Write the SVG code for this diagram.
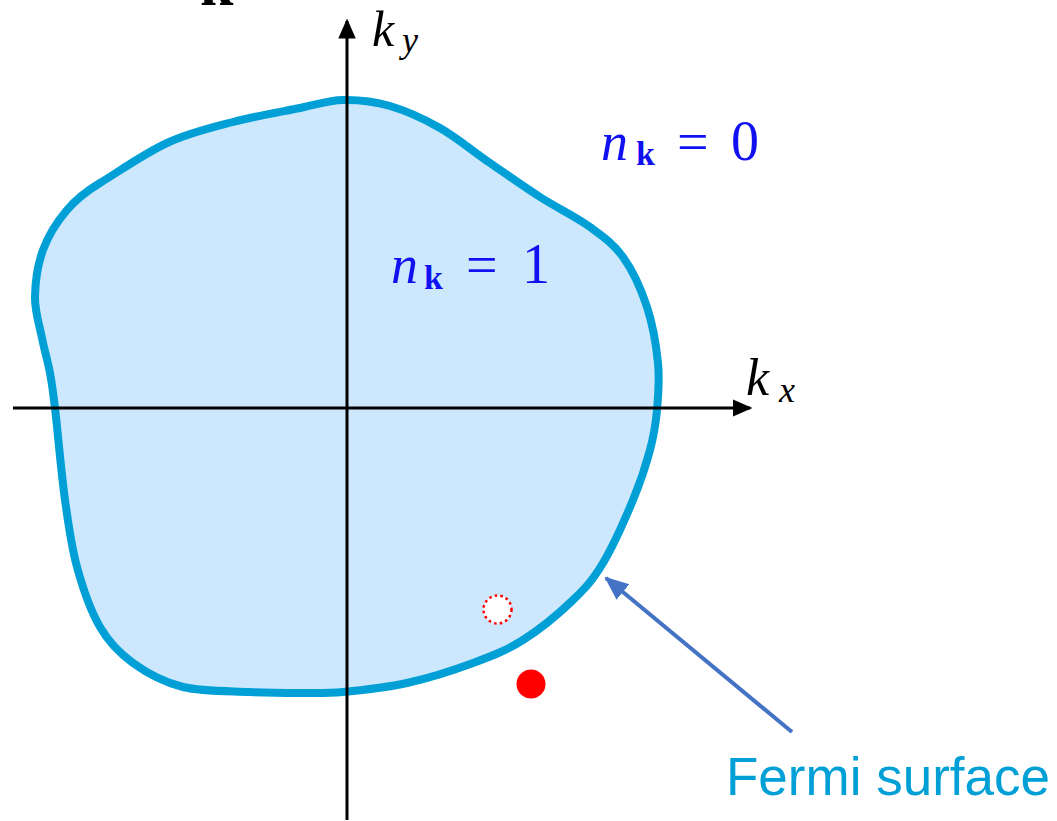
<svg xmlns="http://www.w3.org/2000/svg" width="1057" height="821" viewBox="0 0 1057 821">
<style>
.axis{stroke:#000;stroke-width:3;fill:none}
.math{font-family:"Liberation Serif","DejaVu Serif",serif;font-style:italic}
.up{font-family:"Liberation Serif","DejaVu Serif",serif;font-style:normal}
.bold{font-family:"Liberation Serif","DejaVu Serif",serif;font-weight:bold;font-style:normal}
.blue{fill:#1010f0}
</style>
<defs>
<marker id="axhead" markerUnits="userSpaceOnUse" markerWidth="20" markerHeight="20" viewBox="0 0 16 16" refX="14" refY="8" orient="auto">
<path d="M0,1 L16,8 L0,15 Z" fill="#000"/>
</marker>
<marker id="bluehead" markerUnits="userSpaceOnUse" markerWidth="24" markerHeight="24" viewBox="0 0 24 24" refX="22" refY="12" orient="auto">
<path d="M0,2 L24,12 L0,22 Z" fill="#4472c4"/>
</marker>
</defs>
<rect width="1057" height="821" fill="#fff"/>
<g id="top-cut-label">
<text class="bold" x="200" y="5" font-size="60" fill="#000">k</text>
</g>
<g id="fermi-sea">
<path d="M343,100 C358,99.7 373.8,101.3 390,106 C406.2,110.7 423.3,118.5 440,128 C456.7,137.5 473.3,151.5 490,163 C506.7,174.5 523.3,186.3 540,197 C556.7,207.7 576.2,217 590,227 C603.8,237 613.5,243.7 623,257 C632.5,270.3 641.2,289.3 647,307 C652.8,324.7 656.3,345.8 658,363 C659.7,380.2 658.3,395.5 657,410 C655.7,424.5 654,435 650,450 C646,465 640.8,481.2 633,500 C625.2,518.8 613,546.3 603,563 C593,579.7 586.3,587.2 573,600 C559.7,612.8 539.7,629.5 523,640 C506.3,650.5 492.3,655.8 473,663 C453.7,670.2 428.7,678.2 407,683 C385.3,687.8 360.8,690.3 343,692 C325.2,693.7 315.5,693 300,693 C284.5,693 269.5,693 250,692 C230.5,691 202.5,691.8 183,687 C163.5,682.2 146.8,673 133,663 C119.2,653 109.3,643 100,627 C90.7,611 82.8,588.2 77,567 C71.2,545.8 68.7,526.5 65,500 C61.3,473.5 57.5,429.2 55,408 C52.5,386.8 52.2,384.7 50,373 C47.8,361.3 44.5,350.7 42,338 C39.5,325.3 34.8,311.7 35,297 C35.2,282.3 37.7,264.5 43,250 C48.3,235.5 57.5,221.2 67,210 C76.5,198.8 85,192 100,183 C118,172 144.8,153.2 167,143 C189.2,132.8 210.8,127.8 233,122 C255.2,116.2 281.7,111.7 300,108 C318.3,104.3 328,100.3 343,100 Z" fill="#cde8fd" stroke="#00a0d6" stroke-width="8" stroke-linejoin="round"/>
</g>
<g id="connectors">
<line class="axis" x1="13" y1="408" x2="750" y2="408" marker-end="url(#axhead)"/>
<line class="axis" x1="347" y1="820" x2="347" y2="21" marker-end="url(#axhead)"/>
<line x1="792" y1="732" x2="606" y2="578" stroke="#4472c4" stroke-width="4" marker-end="url(#bluehead)"/>
</g>
<g id="label-ky">
<text class="math" x="372" y="46" font-size="50">k</text>
<text class="math" x="402" y="52" font-size="36">y</text>
</g>
<g id="label-kx">
<text class="math" x="746" y="395" font-size="52">k</text>
<text class="math" x="779" y="402" font-size="36">x</text>
</g>
<g id="label-n0" class="blue">
<text class="math" x="601" y="160" font-size="54">n</text>
<text class="bold" x="636" y="165" font-size="34">k</text>
<text class="up" x="677" y="161" font-size="56">=</text>
<text class="up" x="731" y="160" font-size="56">0</text>
</g>
<g id="label-n1" class="blue">
<text class="math" x="391" y="283" font-size="54">n</text>
<text class="bold" x="424" y="289" font-size="34">k</text>
<text class="up" x="466" y="284" font-size="56">=</text>
<text class="up" x="522" y="283" font-size="56">1</text>
</g>
<g id="hole">
<circle cx="497.5" cy="609.5" r="14" fill="#fff" stroke="#ff0000" stroke-width="2.5" stroke-dasharray="2.5 3.2"/>
</g>
<g id="particle">
<circle cx="531" cy="684" r="14.5" fill="#ff0000"/>
</g>
<g id="label-fermi">
<text x="726" y="795" font-family="Liberation Sans, Arial, sans-serif" font-size="53" fill="#00a0d6">Fermi surface</text>
</g>
</svg>
